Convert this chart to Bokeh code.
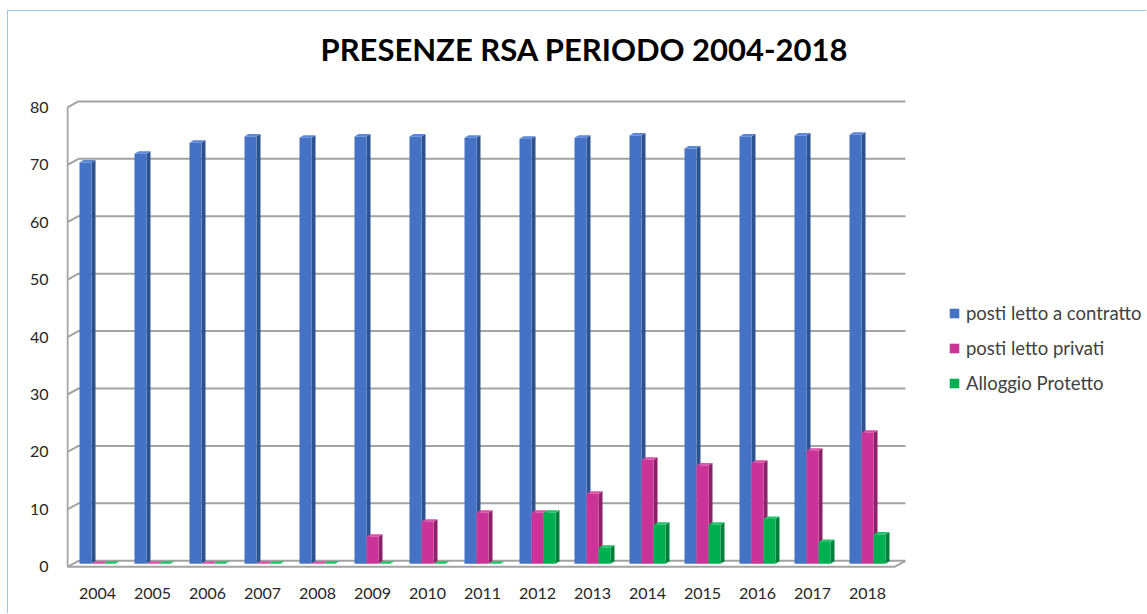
from bokeh.plotting import figure
from bokeh.models import Range1d, FixedTicker, Legend, LegendItem, Label
from bokeh.embed import file_html
from bokeh.resources import INLINE

# ---------------- data ----------------
years = ["2004", "2005", "2006", "2007", "2008", "2009", "2010", "2011",
         "2012", "2013", "2014", "2015", "2016", "2017", "2018"]
contratto = [69.9, 71.4, 73.3, 74.4, 74.2, 74.4, 74.4, 74.2,
             74.0, 74.2, 74.6, 72.3, 74.4, 74.6, 74.7]
privati = [0, 0, 0, 0, 0, 4.7, 7.3, 8.9, 8.9, 12.2, 18.1, 17.1, 17.6, 19.7, 22.8]
protetto = [0, 0, 0, 0, 0, 0, 0, 0, 8.9, 2.8, 6.8, 6.8, 7.8, 3.8, 5.1]
series_names = ["posti letto a contratto", "posti letto privati", "Alloggio Protetto"]
y_ticks = [0, 10, 20, 30, 40, 50, 60, 70, 80]
title_text = "PRESENZE RSA PERIODO 2004-2018"

# ---------------- geometry (page px) ----------------
OX, OY = 8, 11                             # canvas origin on the page
W, H = 1147 - OX, 614 - OY
FL, FR, FT, FB = 66 - OX, W - 1, 0, 572 - OY
PLOT_RIGHT = 905 - OX                      # right end of the chart walls
PX_X = 55.0                                # px per category
PX_Y = 5.742                               # px per value unit
x_start = -31.0 / PX_X
x_end = x_start + (FR - FL) / PX_X
y_start = -1.0
y_end = y_start + (FB - FT) / PX_Y
ux = 1.0 / PX_X
uy = 1.0 / PX_Y

FONT = "Lato"
TXT = "#262626"
GRID = "#a3a3a3"

p = figure(width=W, height=H, output_backend="svg", toolbar_location=None,
           x_range=Range1d(x_start, x_end), y_range=Range1d(y_start, y_end),
           min_border_left=FL, min_border_right=W - FR,
           min_border_top=FT, min_border_bottom=H - FB)
p.outline_line_color = None
p.xgrid.visible = False
p.ygrid.visible = False
p.background_fill_color = "white"
p.border_fill_color = "white"
p.styles = {"margin-left": "7px", "margin-top": "10px",
            "border-left": "1px solid #9DC3E6", "border-top": "1px solid #9DC3E6"}

# ---------------- 3D walls / gridlines ----------------
dxb, dyb = 11 * ux, 6 * uy
wall_x = x_start + 1.0 * ux
right_x = x_start + (PLOT_RIGHT - FL) * ux
gx, gy = [], []
for v in y_ticks:
    gx.append([wall_x, wall_x + dxb, right_x])
    gy.append([v, v + dyb, v + dyb])
gx.append([wall_x, right_x - dxb, right_x])
gy.append([0, 0, dyb])
gx.append([wall_x, wall_x])
gy.append([0, y_ticks[-1]])
p.multi_line(gx, gy, line_color=GRID, line_width=2)

# ---------------- bars with 3D faces ----------------
bar_w = 12 * ux
sdx, sdy = 4 * ux, 2.5 * uy
base = 3 * uy
colors = [("#4472C4", "#2E528F", "#5A86D4"),
          ("#CC3399", "#8C2168", "#D84FA8"),
          ("#00B050", "#00803A", "#1FC265")]
offsets = [-12 * ux, 0.0, 12 * ux]
fronts = []
for vals, (cf, cs, ct), off in zip([contratto, privati, protetto], colors, offsets):
    xs_side, ys_side, xs_top, ys_top = [], [], [], []
    cx, tops = [], []
    for i, v in enumerate(vals):
        xl = i + off - bar_w / 2
        xr = i + off + bar_w / 2
        top = base + v
        xs_side.append([xr, xr + sdx, xr + sdx, xr])
        ys_side.append([base, base + sdy, top + sdy, top])
        xs_top.append([xl, xl + sdx, xr + sdx, xr])
        ys_top.append([top, top + sdy, top + sdy, top])
        cx.append(i + off)
        tops.append(top)
    p.patches(xs_side, ys_side, fill_color=cs, line_color=None)
    p.patches(xs_top, ys_top, fill_color=ct, line_color=None)
    r = p.vbar(x=cx, top=tops, bottom=base, width=bar_w, fill_color=cf, line_color=None)
    fronts.append(r)

# ---------------- axes ----------------
p.yaxis.ticker = FixedTicker(ticks=y_ticks)
p.yaxis.axis_line_color = None
p.yaxis.major_tick_line_color = None
p.yaxis.minor_tick_line_color = None
p.yaxis.major_tick_out = 0
p.yaxis.major_tick_in = 0
p.yaxis.major_label_standoff = 18
p.yaxis.major_label_text_font = FONT
p.yaxis.major_label_text_font_size = "16px"
p.yaxis.major_label_text_color = TXT

p.xaxis.ticker = FixedTicker(ticks=list(range(len(years))))
p.xaxis.major_label_overrides = {i: y for i, y in enumerate(years)}
p.xaxis.axis_line_color = None
p.xaxis.major_tick_line_color = None
p.xaxis.minor_tick_line_color = None
p.xaxis.major_tick_out = 0
p.xaxis.major_tick_in = 0
p.xaxis.major_label_standoff = 15
p.xaxis.major_label_text_font = FONT
p.xaxis.major_label_text_font_size = "16px"
p.xaxis.major_label_text_color = TXT

# ---------------- title (inside the tall frame) ----------------
title_x = x_start + (584 - 66) * ux
title_y = y_start + (FB - (48 - OY)) * uy
p.add_layout(Label(x=title_x, y=title_y, text=title_text,
                   text_align="center", text_baseline="middle",
                   text_font=FONT, text_font_size="31px", text_font_style="bold",
                   text_color="black"))

# ---------------- legend ----------------
legend = Legend(items=[LegendItem(label=n, renderers=[r]) for n, r in zip(series_names, fronts)],
                location=(882, 178), orientation="vertical",
                label_text_font=FONT, label_text_font_size="18.5px", label_text_color="#404040",
                glyph_width=12, glyph_height=12, label_height=23, spacing=12,
                label_standoff=6, padding=0, margin=0,
                border_line_color=None, background_fill_alpha=0)
p.add_layout(legend)

open("out.html", "w").write(file_html(p, INLINE))
